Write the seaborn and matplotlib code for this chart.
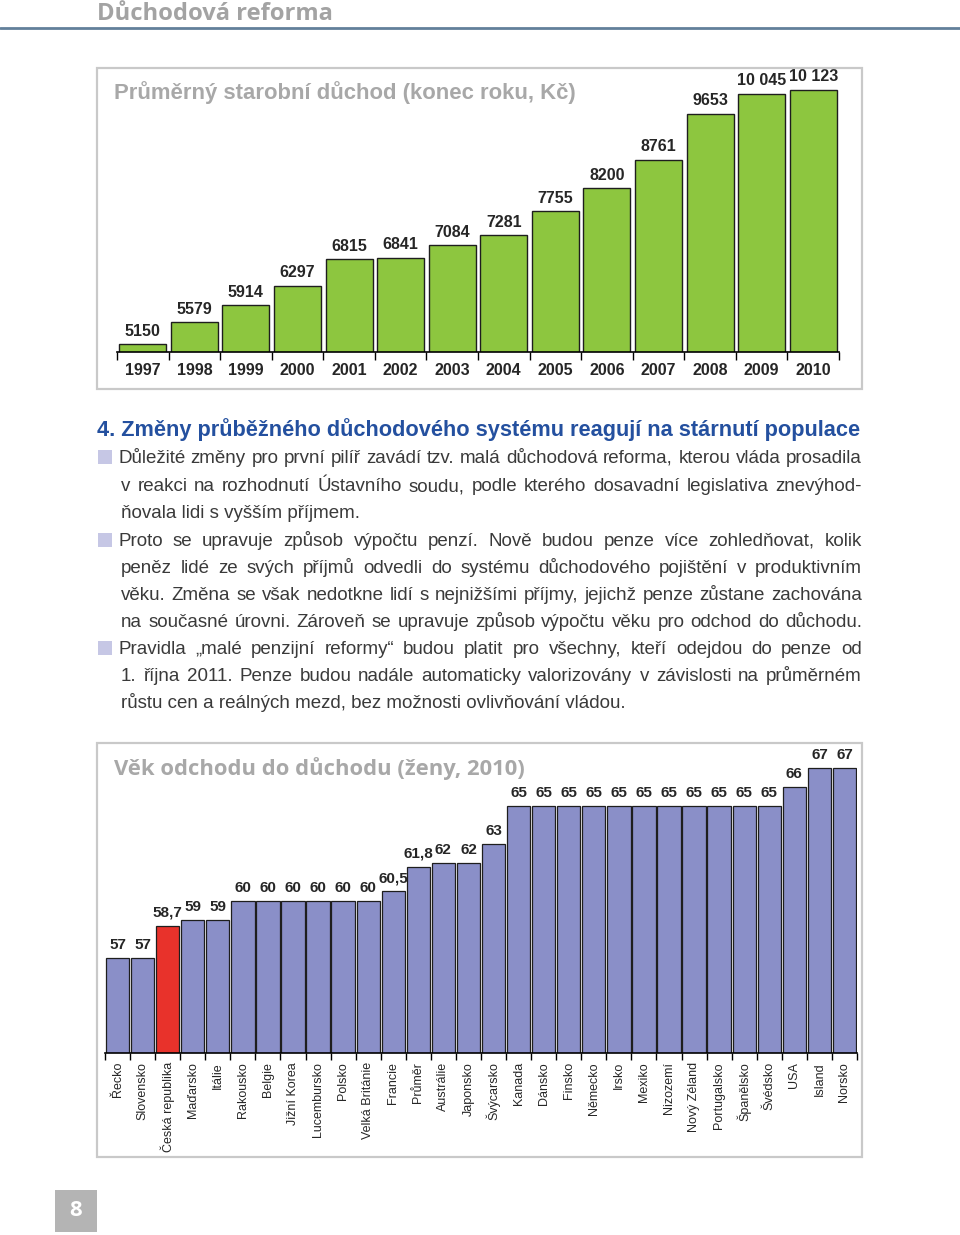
import matplotlib
matplotlib.use('Agg')
import matplotlib.pyplot as plt
from matplotlib import font_manager
from matplotlib.patches import Rectangle
import numpy as np
import pandas as pd
import seaborn as sns

# ---- data ----
years = ['1997', '1998', '1999', '2000', '2001', '2002', '2003',
         '2004', '2005', '2006', '2007', '2008', '2009', '2010']
pension = [5150, 5579, 5914, 6297, 6815, 6841, 7084, 7281, 7755, 8200,
           8761, 9653, 10045, 10123]
pension_text = ['5150', '5579', '5914', '6297', '6815', '6841', '7084', '7281',
                '7755', '8200', '8761', '9653', '10 045', '10 123']

countries = ['Řecko', 'Slovensko', 'Česká republika', 'Maďarsko', 'Itálie',
             'Rakousko', 'Belgie', 'Jižní Korea', 'Lucembursko', 'Polsko',
             'Velká Británie', 'Francie', 'Průměr', 'Austrálie', 'Japonsko',
             'Švýcarsko', 'Kanada', 'Dánsko', 'Finsko', 'Německo', 'Irsko',
             'Mexiko', 'Nizozemí', 'Nový Zéland', 'Portugalsko', 'Španělsko',
             'Švédsko', 'USA', 'Island', 'Norsko']
ages = [57, 57, 58.7, 59, 59, 60, 60, 60, 60, 60, 60, 60.5, 61.8, 62, 62, 63,
        65, 65, 65, 65, 65, 65, 65, 65, 65, 65, 65, 66, 67, 67]
age_text = ['57', '57', '58,7', '59', '59', '60', '60', '60', '60', '60', '60',
            '60,5', '61,8', '62', '62', '63', '65', '65', '65', '65', '65', '65',
            '65', '65', '65', '65', '65', '66', '67', '67']
highlight = 'Česká republika'

header = 'Důchodová reforma'
title1 = 'Průměrný starobní důchod (konec roku, Kč)'
title2 = 'Věk odchodu do důchodu (ženy, 2010)'
heading = '4. Změny průběžného důchodového systému reagují na stárnutí populace'
paragraphs = [
    ['Důležité změny pro první pilíř zavádí tzv. malá důchodová reforma, kterou vláda prosadila',
     'v reakci na rozhodnutí Ústavního soudu, podle kterého dosavadní legislativa znevýhod-',
     'ňovala lidi s vyšším příjmem.'],
    ['Proto se upravuje způsob výpočtu penzí. Nově budou penze více zohledňovat, kolik',
     'peněz lidé ze svých příjmů odvedli do systému důchodového pojištění v produktivním',
     'věku. Změna se však nedotkne lidí s nejnižšími příjmy, jejichž penze zůstane zachována',
     'na současné úrovni. Zároveň se upravuje způsob výpočtu věku pro odchod do důchodu.'],
    ['Pravidla „malé penzijní reformy“ budou platit pro všechny, kteří odejdou do penze od',
     '1. října 2011. Penze budou nadále automaticky valorizovány v závislosti na průměrném',
     'růstu cen a reálných mezd, bez možnosti ovlivňování vládou.'],
]
page_no = '8'

# ---- fonts / style ----
sns.set_style('white')
names = {f.name for f in font_manager.fontManager.ttflist}
NARROW = 'Liberation Sans Narrow' if 'Liberation Sans Narrow' in names else 'Liberation Sans'
plt.rcParams['font.family'] = ['Liberation Sans', 'DejaVu Sans']

W, H = 960, 1235
fig = plt.figure(figsize=(9.6, 12.35), dpi=100)
renderer = fig.canvas.get_renderer()


def fx(x):
    return x / W


def fy(y):
    return 1 - y / H


def fit(text, x, y, width, size, va='baseline', **kw):
    t = fig.text(fx(x), fy(y), text, fontsize=size, va=va, ha='left', **kw)
    w = t.get_window_extent(renderer).width
    t.set_fontsize(size * width / w)
    return t


def text_width(text, size, **kw):
    t = fig.text(0, 0, text, fontsize=size, **kw)
    w = t.get_window_extent(renderer).width
    t.remove()
    return w


def line(text, x0, x1, y, size, justify, **kw):
    if not justify:
        fig.text(fx(x0), fy(y), text, fontsize=size, va='baseline', ha='left', **kw)
        return
    words = text.split(' ')
    objs = [fig.text(0, fy(y), w, fontsize=size, va='baseline', ha='left', **kw) for w in words]
    widths = [o.get_window_extent(renderer).width for o in objs]
    gap = (x1 - x0 - sum(widths)) / (len(words) - 1)
    x = x0
    for o, w in zip(objs, widths):
        o.set_x(fx(x))
        x += w + gap


def box(x0, y0, x1, y1, **kw):
    fig.add_artist(Rectangle((fx(x0), fy(y1)), (x1 - x0) / W, (y1 - y0) / H,
                             transform=fig.transFigure, **kw))


# ---- page header ----
fit(header, 97, 20, 236, 15, color='#a3a3a3', fontweight='bold', family='Open Sans')
fig.add_artist(plt.Line2D([0, 1], [fy(28), fy(28)], transform=fig.transFigure,
                          color='#62809a', linewidth=2))

# ---- chart 1 ----
box(97, 68, 862, 389, fill=False, edgecolor='#c9c9c9', linewidth=1.6)
ax1 = fig.add_axes([fx(117), fy(352), (839 - 117) / W, (352 - 70) / H])
df1 = pd.DataFrame({'rok': years, 'duchod': pension})
sns.barplot(data=df1, x='rok', y='duchod', ax=ax1, color='#8dc63f', saturation=1,
            edgecolor='#1e1e1e', linewidth=1.0, width=0.91)
ax1.set_ylim(5000, 5000 + 5123 * 282 / 262)
ax1.set_xlim(-0.5, 13.5)
ax1.bar_label(ax1.containers[0], labels=pension_text, padding=4, fontsize=11.5,
              fontweight='bold', family=NARROW)
ax1.set_xlabel('')
ax1.set_ylabel('')
ax1.set_yticks([])
ax1.set_xticks(np.arange(-0.5, 14, 1), minor=True)
ax1.tick_params(axis='x', which='major', length=0, pad=8, labelsize=11.5)
ax1.tick_params(axis='x', which='minor', length=6, width=1, color='black', bottom=True)
for lab in ax1.get_xticklabels():
    lab.set_fontweight('bold')
    lab.set_family(NARROW)
sns.despine(ax=ax1, left=True)
ax1.spines['bottom'].set_linewidth(1.2)
ax1.spines['bottom'].set_color('black')
ax1.patch.set_alpha(0)
fit(title1, 114, 99, 464, 17, color='#a8a8a8', fontweight='bold', family=NARROW)

# ---- text section ----
fit(heading, 97, 436, 765, 17, color='#24509f', fontweight='bold', family=NARROW)
body_kw = dict(color='#3a3a3a', family=NARROW)
# largest size for which every justified line still fits its width
base = 13.5
factors = []
for par in paragraphs:
    for j, txt in enumerate(par[:-1] if len(par) != 4 else par):
        avail = 862 - (118 if j == 0 else 121)
        factors.append(avail / text_width(txt, base, **body_kw))
body_size = base * min(factors) * 0.995

line_y = [457, 485, 512, 540, 567, 594, 621, 648, 675, 702]
i = 0
for par in paragraphs:
    for j, txt in enumerate(par):
        y = line_y[i]
        if j == 0:
            box(98, y - 7, 112, y + 7, facecolor='#c6c7e5', edgecolor='none')
        last = j == len(par) - 1 and len(par) != 4
        line(txt, 118 if j == 0 else 121, 862, y + 6, body_size, not last, **body_kw)
        i += 1

# ---- chart 2 ----
box(97, 743, 862, 1157, fill=False, edgecolor='#c9c9c9', linewidth=1.6)
ax2 = fig.add_axes([fx(105), fy(1053), (857 - 105) / W, (1053 - 750) / H])
df2 = pd.DataFrame({'zeme': countries, 'vek': ages})
palette = {c: ('#e8322b' if c == highlight else '#8a8fc8') for c in countries}
sns.barplot(data=df2, x='zeme', y='vek', hue='zeme', palette=palette, legend=False,
            dodge=False, ax=ax2, saturation=1, edgecolor='#1e1e1e', linewidth=0.9,
            width=0.93)
ax2.set_ylim(52, 52 + (1053 - 750) / 19)
ax2.set_xlim(-0.5, 29.5)
for cont, lbl in zip(ax2.containers, age_text):
    ax2.bar_label(cont, labels=[lbl], padding=4.5, fontsize=11, fontweight='bold')
ax2.set_xlabel('')
ax2.set_ylabel('')
ax2.set_yticks([])
ax2.set_xticks(range(30))
ax2.set_xticklabels(countries, rotation=90, fontsize=9, va='top', ha='center')
ax2.set_xticks(np.arange(-0.5, 30, 1), minor=True)
ax2.tick_params(axis='x', which='major', length=0, pad=6.5)
ax2.tick_params(axis='x', which='minor', length=5, width=1, color='black', bottom=True)
sns.despine(ax=ax2, left=True)
ax2.spines['bottom'].set_linewidth(1.2)
ax2.spines['bottom'].set_color('black')
ax2.patch.set_alpha(0)
fit(title2, 114, 775, 409, 17, color='#a8a8a8', fontweight='bold', family='Open Sans')

# ---- page number ----
box(55, 1190, 97, 1232, facecolor='#b4b4b4', edgecolor='none')
fig.text(fx(76), fy(1211), page_no, color='white', fontsize=16, fontweight='bold',
         ha='center', va='center', family='Open Sans')

fig.savefig('out.png', dpi=100)
